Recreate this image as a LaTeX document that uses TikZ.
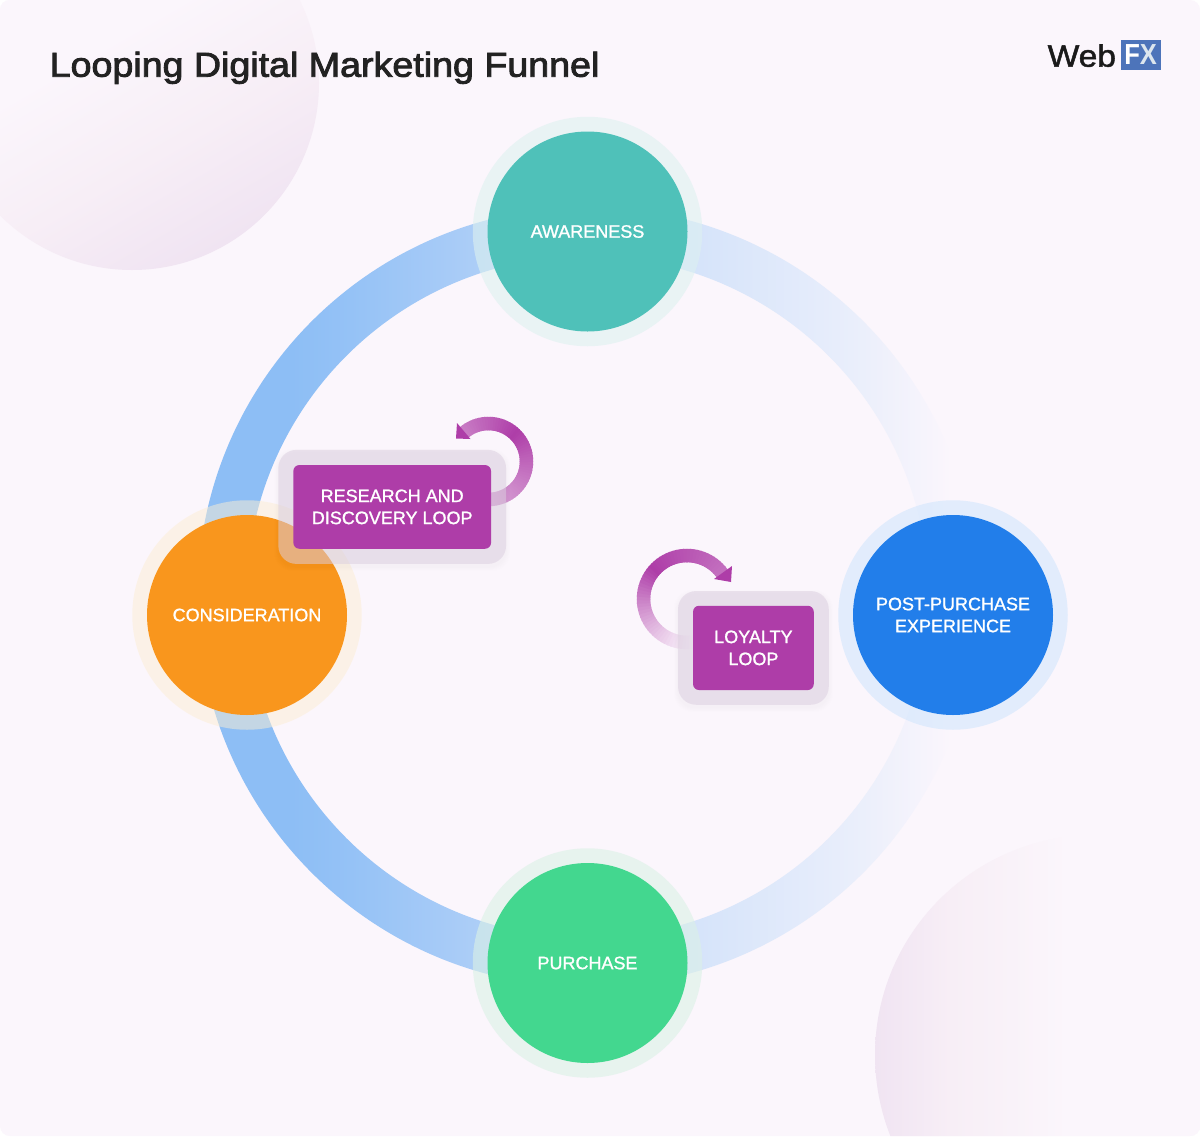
\documentclass[tikz,border=0pt]{standalone}
\usepackage{fontspec}
\setmainfont{Liberation Sans}
\newfontfamily\medfont[FakeBold=1.2]{Liberation Sans}
\newfontfamily\webfont[FakeBold=1.5]{Liberation Sans}
\newfontfamily\titlefont[FakeBold=2.6,FakeStretch=1.09]{Liberation Sans}
\usetikzlibrary{calc}
\definecolor{pageBg}{HTML}{FBF6FC}
\definecolor{decoMid}{HTML}{F7EEF6}
\definecolor{decoPink}{HTML}{F0E4F2}
\definecolor{decoFaint}{HTML}{FAF4FA}
\definecolor{ringA}{HTML}{8DBEF5}
\definecolor{ringB}{HTML}{95C2F6}
\definecolor{ringC}{HTML}{ABCDF7}
\definecolor{ringD}{HTML}{C0D8F8}
\definecolor{ringE}{HTML}{D6E4FA}
\definecolor{ringF}{HTML}{E9EEFB}
\definecolor{boxPurple}{HTML}{AE3DA8}
\pgfdeclarehorizontalshading{ringShade}{100bp}{color(0bp)=(ringA); color(31bp)=(ringA); color(34.8bp)=(ringB); color(42.5bp)=(ringC); color(50bp)=(ringD); color(57.2bp)=(ringE); color(66.9bp)=(ringF); color(73.3bp)=(pageBg); color(100bp)=(pageBg)}
\pgfdeclarehorizontalshading{decoTL}{100bp}{color(0bp)=(pageBg); color(43.3bp)=(pageBg); color(60bp)=(decoMid); color(75bp)=(decoPink); color(100bp)=(decoPink)}
\pgfdeclarehorizontalshading{decoBR}{100bp}{color(0bp)=(decoPink); color(25bp)=(decoPink); color(33.5bp)=(decoMid); color(43.75bp)=(decoFaint); color(47bp)=(pageBg); color(100bp)=(pageBg)}
\definecolor{haloPurple}{HTML}{DCCFE0}
\tikzset{
  stage/.style={circle,minimum size=200pt,inner sep=0pt,text=white,align=center,font=\medfont\fontsize{18}{22}\selectfont},
  halo/.style={circle,minimum size=229.5pt,inner sep=0pt,fill opacity=.6},
  loopbox/.style={rectangle,rounded corners=6pt,fill=boxPurple,inner sep=0pt,text=white,align=center,font=\medfont\fontsize{18}{22}\selectfont},
  loophalo/.style={rectangle,rounded corners=18pt,inner sep=0pt,fill=haloPurple,fill opacity=.52},
  loopshadow/.style={rectangle,rounded corners=18pt,inner sep=0pt,fill=black,fill opacity=.005},
}
% loop arrow: #1 centre, #2 radius, #3 start angle, #4 end angle, #5 start strength, #6 end strength, #7 peak fraction
\newcommand{\loopring}[7]{%
  \foreach \i in {0,...,59}{%
    \pgfmathsetmacro\ta{\i/60}%
    \pgfmathsetmacro\aone{#3+(#4-#3)*\ta}%
    \pgfmathsetmacro\atwo{#3+(#4-#3)*(\i+1.4)/60}%
    \pgfmathsetmacro\pp{\ta<#7 ? #5+(100-#5)*(\ta/#7)^1.3 : 100-(100-#6)*(\ta-#7)/(1-#7)}%
    \draw[line width=13.5pt,color=boxPurple!\pp!pageBg] ($(#1)+(\aone:#2)$) -- ($(#1)+(\atwo:#2)$);%
  }}
\begin{document}
\begin{tikzpicture}[x=1pt,y=-1pt]
\useasboundingbox (0,0) rectangle (1200,1136);
\fill[white] (0,0) rectangle (1200,1136);
\fill[pageBg,rounded corners=10pt] (0,0) rectangle (1200,1136);
% decorative discs
\begin{scope}
  \clip[rounded corners=10pt] (0,0) rectangle (1200,1136);
  \shade[shading=decoTL,shading angle=-60] (132,83) circle (187pt);
  \shade[shading=decoBR] (1095,1055) circle (220pt);
\end{scope}
% ring
\coordinate (hub) at (587.5,597);
\shade[shading=ringShade,even odd rule] (hub) circle (390pt) (hub) circle (341pt);
% stages
\coordinate (awarePos) at (587.5,231.5);
\coordinate (purchPos) at (587.5,963);
\coordinate (considPos) at (247,615);
\coordinate (postPos) at (953,615);
\node[halo,fill={rgb,255:red,221;green,241;blue,240}] (awareHalo) at (awarePos) {};
\node[halo,fill={rgb,255:red,219;green,241;blue,230}] (purchHalo) at (purchPos) {};
\node[halo,fill={rgb,255:red,251;green,238;blue,212},fill opacity=.5] (considHalo) at (considPos) {};
\node[halo,fill={rgb,255:red,210;green,230;blue,253}] (postHalo) at (postPos) {};
\node[stage,fill={rgb,255:red,79;green,193;blue,185}] (aware) at (awarePos) {AWARENESS};
\node[stage,fill={rgb,255:red,67;green,215;blue,143}] (purch) at (purchPos) {PURCHASE};
\node[stage,fill={rgb,255:red,249;green,150;blue,29}] (consid) at (considPos) {CONSIDERATION};
\node[stage,fill={rgb,255:red,34;green,126;blue,234}] (post) at (postPos) {POST-PURCHASE\\EXPERIENCE};
% loop arrows
\coordinate (researchHub) at (488.5,461.5);
\coordinate (loyalHub) at (687,599);
\loopring{researchHub}{38}{100}{-129}{45}{65}{.63}
\fill[boxPurple] (457,423) -- (456,438.5) -- (470.5,439) -- cycle;
\loopring{loyalHub}{43.5}{75}{323}{0}{72}{.58}
\fill[boxPurple] (732,566) -- (731,582) -- (714,579) -- cycle;
% loop boxes
\coordinate (researchPos) at (392.2,506.9);
\coordinate (loyalPos) at (753.4,647.9);
\foreach \k in {1,...,6}{
  \node[loopshadow,minimum width={227.7pt+\k*1.4pt},minimum height={114pt+\k*1.4pt}] at ($(researchPos)+(0,3)$) {};
  \node[loopshadow,minimum width={150.7pt+\k*1.4pt},minimum height={113.7pt+\k*1.4pt}] at ($(loyalPos)+(0,3)$) {};
}
\node[loophalo,minimum width=227.7pt,minimum height=114pt] (researchHalo) at (researchPos) {};
\node[loophalo,minimum width=150.7pt,minimum height=113.7pt] (loyalHalo) at (loyalPos) {};
\node[loopbox,minimum width=197.7pt,minimum height=83.7pt] (research) at (researchPos) {RESEARCH AND\\DISCOVERY LOOP};
\node[loopbox,minimum width=120.7pt,minimum height=84.3pt] (loyal) at (loyalPos) {LOYALTY\\LOOP};
% title and logo
\node[anchor=base west,inner sep=0pt,text={rgb,255:red,34;green,34;blue,34},font=\titlefont\fontsize{34.5}{40}\selectfont] (title) at (49.5,76.7) {Looping Digital Marketing Funnel};
\node[anchor=base west,inner sep=0pt,text={rgb,255:red,26;green,26;blue,26},font=\webfont\fontsize{31}{36}\selectfont] (web) at (1047.5,66.7) {\scalebox{1.08}[1]{Web}};
\node[rectangle,minimum width=40pt,minimum height=30pt,inner sep=0pt,fill={rgb,255:red,77;green,116;blue,186},text=white,font=\bfseries\fontsize{29}{30}\selectfont] (fx) at (1140.7,55) {\scalebox{.88}[1]{F\textcolor[HTML]{DCE6EE}{X}}};
\end{tikzpicture}
\end{document}
